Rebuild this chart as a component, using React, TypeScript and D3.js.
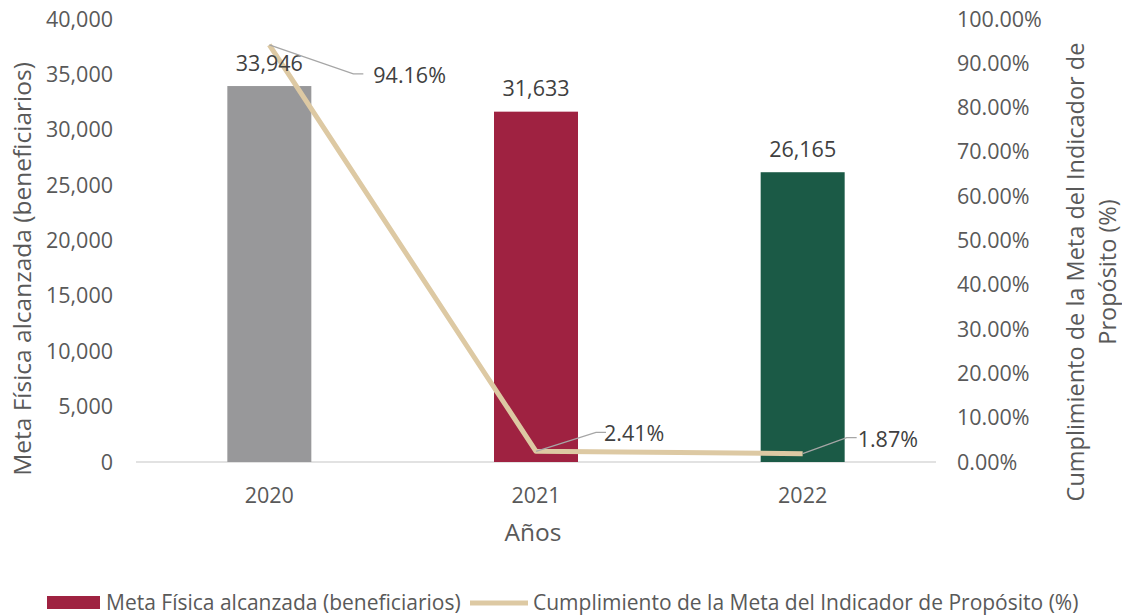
import React from "react";
import * as d3 from "d3";

const years = ["2020", "2021", "2022"];
const beneficiarios = [33946, 31633, 26165];
const cumplimiento = [0.9416, 0.0241, 0.0187];
const barColors = ["#98989A", "#9F2241", "#1B5A46"];
const leftTicks = [0, 5000, 10000, 15000, 20000, 25000, 30000, 35000, 40000];
const rightTicks = [0, 0.1, 0.2, 0.3, 0.4, 0.5, 0.6, 0.7, 0.8, 0.9, 1.0];

const W = 1122;
const H = 615;
const FONT = "'Open Sans', 'Noto Sans', sans-serif";
const TXT = "#595959";
const FS = 21.5;
const FT = 24.5;

export default function App() {
  const x = d3.scaleBand<string>().domain(years).range([136, 936]).paddingInner(0.685).paddingOuter(0.3425);
  const yL = d3.scaleLinear().domain([0, 40000]).range([462, 19]);
  const yR = d3.scaleLinear().domain([0, 1]).range([462, 19]);
  const fmtN = d3.format(",");
  const fmtP = (v: number) => (v * 100).toFixed(2) + "%";
  const cx = (y: string) => (x(y) as number) + x.bandwidth() / 2;
  const line = d3.line<number>().x((_, i) => cx(years[i])).y((d) => yR(d));

  const lbl = [
    { dx: 84, dy: 29, tx: 104, ty: 31 },
    { dx: 60, dy: -19, tx: 68, ty: -18 },
    { dx: 44, dy: -16, tx: 55, ty: -14 },
  ];

  return (
    <svg width={W} height={H} style={{ position: "absolute", left: 0, top: 0, background: "#fff" }} fontFamily={FONT}>
      <line x1={136} x2={936} y1={yL(0)} y2={yL(0)} stroke="#D9D9D9" strokeWidth={1.5} />
      {leftTicks.map((t) => (
        <text key={t} x={113} y={yL(t)} dy="0.35em" textAnchor="end" fontSize={FS} fill={TXT}>
          {fmtN(t)}
        </text>
      ))}
      {rightTicks.map((t) => (
        <text key={t} x={957} y={yR(t)} dy="0.35em" textAnchor="start" fontSize={FS} fill={TXT}>
          {fmtP(t)}
        </text>
      ))}
      {years.map((yr, i) => (
        <rect key={yr} x={x(yr)} y={yL(beneficiarios[i])} width={x.bandwidth()} height={yL(0) - yL(beneficiarios[i])} fill={barColors[i]} />
      ))}
      {years.map((yr, i) => (
        <text key={yr} x={cx(yr)} y={yL(0) + 33} dy="0.35em" textAnchor="middle" fontSize={FS} fill={TXT}>
          {yr}
        </text>
      ))}
      <path d={line(cumplimiento) || ""} fill="none" stroke="#DDC9A3" strokeWidth={5} strokeLinejoin="round" />
      {years.map((yr, i) => (
        <text key={yr} x={cx(yr)} y={yL(beneficiarios[i]) - 23} dy="0.35em" textAnchor="middle" fontSize={FS} fill="#404040">
          {fmtN(beneficiarios[i])}
        </text>
      ))}
      {years.map((yr, i) => {
        const px = cx(yr);
        const py = yR(cumplimiento[i]);
        const o = lbl[i];
        return (
          <g key={yr}>
            <polyline
              points={`${px},${py} ${px + o.dx},${py + o.dy} ${px + o.dx + 10},${py + o.dy}`}
              fill="none"
              stroke="#A6A6A6"
              strokeWidth={1.3}
            />
            <text x={px + o.tx} y={py + o.ty} dy="0.35em" textAnchor="start" fontSize={FS} fill="#404040">
              {fmtP(cumplimiento[i])}
            </text>
          </g>
        );
      })}
      <text x={533} y={532} dy="0.35em" textAnchor="middle" fontSize={FT} fill={TXT}>
        Años
      </text>
      <text transform={`translate(22,269) rotate(-90)`} dy="0.35em" textAnchor="middle" fontSize={FT} fill={TXT}>
        Meta Física alcanzada (beneficiarios)
      </text>
      <g transform={`translate(1092,272) rotate(-90)`}>
        <text x={0} y={-16} dy="0.35em" textAnchor="middle" fontSize={FT - 1} fill={TXT}>
          Cumplimiento de la Meta del Indicador de
        </text>
        <text x={0} y={16} dy="0.35em" textAnchor="middle" fontSize={FT - 1} fill={TXT}>
          Propósito (%)
        </text>
      </g>
      <rect x={47} y={596} width={53} height={13} fill={barColors[1]} />
      <text x={106} y={603} dy="0.35em" fontSize={21} fill={TXT}>
        Meta Física alcanzada (beneficiarios)
      </text>
      <line x1={470} x2={528} y1={603} y2={603} stroke="#DDC9A3" strokeWidth={5} />
      <text x={533} y={603} dy="0.35em" fontSize={21} fill={TXT}>
        Cumplimiento de la Meta del Indicador de Propósito (%)
      </text>
    </svg>
  );
}
